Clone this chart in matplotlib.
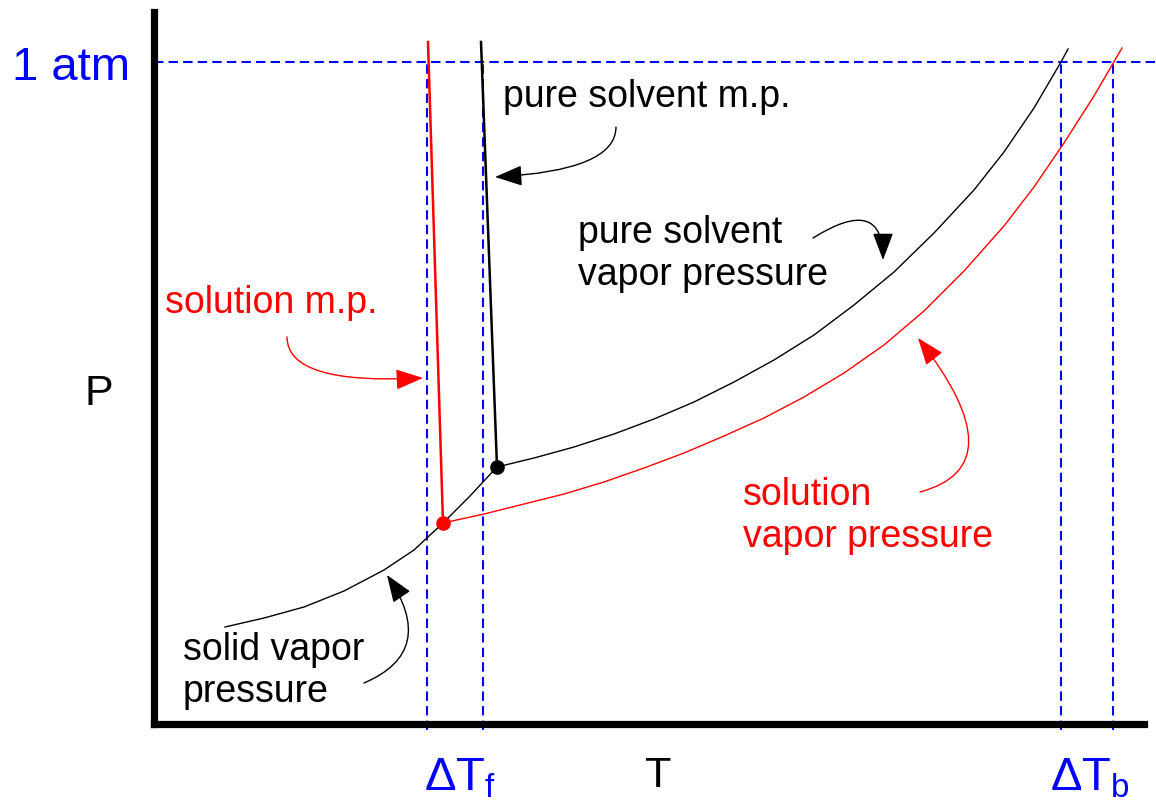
import matplotlib

matplotlib.use("Agg")
import matplotlib.pyplot as plt

plt.rcParams["font.family"] = ["Liberation Sans", "DejaVu Sans"]
plt.rcParams["mathtext.fontset"] = "custom"
plt.rcParams["mathtext.rm"] = "Liberation Sans"
plt.rcParams["mathtext.it"] = "Liberation Sans"

BLUE = "#0000ff"
RED = "#ff0000"

# T, P in arbitrary units (origin at the axes corner)
P_ATM = 662
T_F_PURE, T_F_SOLN = 329, 273
T_B_PURE, T_B_SOLN = 907, 959

# solid vapor pressure curve
solid_T = [71, 110, 150, 190, 230, 260, 289, 315, 343]
solid_P = [97, 106, 117, 133, 154, 174, 201, 227, 257]

# pure solvent vapor pressure (liquid)
pure_T = [343, 380, 420, 460, 500, 540, 580, 620, 660, 700, 740, 780, 820, 850, 880, 907, 914]
pure_P = [257, 266, 277, 290, 305, 322, 342, 364, 389, 419, 452, 491, 534, 572, 616, 662, 675]

# solution vapor pressure
soln_T = [289, 330, 370, 410, 450, 490, 530, 570, 610, 650, 690, 730, 770, 810, 850, 880, 910, 940, 968]
soln_P = [201, 210, 220, 230, 242, 256, 271, 288, 306, 327, 351, 379, 413, 453, 498, 537, 581, 628, 676]

# melting point lines (triple point -> top)
pure_mp_T = [343, 327]
pure_mp_P = [257, 682]
soln_mp_T = [289, 274]
soln_mp_P = [201, 682]

fig = plt.figure(figsize=(11.56, 8.02), dpi=100)
ax = fig.add_axes([154 / 1156, 78 / 802, 990 / 1156, 712 / 802])
ax.set_xlim(0, 990)
ax.set_ylim(0, 712)
for side in ("top", "right"):
    ax.spines[side].set_visible(False)
for side in ("left", "bottom"):
    ax.spines[side].set_linewidth(5.2)
    ax.spines[side].set_capstyle("projecting")
ax.set_xticks([])
ax.set_yticks([])

# reference lines
dash = (0, (4.5, 2.5))
ax.hlines(P_ATM, 0, 1002, colors=BLUE, linestyles=dash, lw=1.5, clip_on=False)
ax.vlines([T_F_SOLN, T_F_PURE, T_B_PURE, T_B_SOLN], -6, P_ATM,
          colors=BLUE, linestyles=dash, lw=1.5, clip_on=False)

# curves
ax.plot(solid_T, solid_P, color="black", lw=1.0)
ax.plot(pure_T, pure_P, color="black", lw=1.0)
ax.plot(soln_T, soln_P, color=RED, lw=1.0)
ax.plot(pure_mp_T, pure_mp_P, color="black", lw=1.8)
ax.plot(soln_mp_T, soln_mp_P, color=RED, lw=1.8)
ax.plot(pure_mp_T[0], pure_mp_P[0], "o", color="black", ms=9.5)
ax.plot(soln_mp_T[0], soln_mp_P[0], "o", color=RED, ms=9.5)

# labels
fs = 27
ax.text(-24, 644, "1 atm", color=BLUE, fontsize=34, ha="right", va="baseline")
ax.text(-69, 319, "P", color="black", fontsize=31, ha="left", va="baseline")
ax.text(504, -63, "T", color="black", fontsize=31, ha="center", va="baseline")
ax.text(306, -66, r"ΔT$_{\mathrm{f}}$", color=BLUE, fontsize=34, ha="center", va="baseline")
ax.text(936, -66, r"ΔT$_{\mathrm{b}}$", color=BLUE, fontsize=34, ha="center", va="baseline")

ax.text(349, 617, "pure solvent m.p.", color="black", fontsize=fs, va="baseline")
ax.text(424, 481, "pure solvent", color="black", fontsize=fs, va="baseline")
ax.text(424, 439, "vapor pressure", color="black", fontsize=fs, va="baseline")
ax.text(11, 411, "solution m.p.", color=RED, fontsize=fs, va="baseline")
ax.text(589, 219, "solution", color=RED, fontsize=fs, va="baseline")
ax.text(589, 177, "vapor pressure", color=RED, fontsize=fs, va="baseline")
ax.text(29, 64, "solid vapor", color="black", fontsize=fs, va="baseline")
ax.text(29, 22, "pressure", color="black", fontsize=fs, va="baseline")

# curved pointer arrows: (start, end, angleA, angleB, colour)
arrows = [
    ((462, 597), (341, 547), 90, 3, "black"),
    ((659, 486), (729, 464), 32, 90, "black"),
    ((133, 387), (269, 346), 90, 3, RED),
    ((766, 232), (764, 386), 15, 128, RED),
    ((210, 41), (233, 149), 23, 124, "black"),
]
for start, end, a, b, c in arrows:
    ax.annotate(
        "", xy=end, xytext=start,
        arrowprops=dict(
            arrowstyle="-|>,head_length=0.85,head_width=0.32",
            connectionstyle=f"angle3,angleA={a},angleB={b}",
            color=c, lw=1.0, shrinkA=0, shrinkB=0, mutation_scale=20,
        ),
    )

fig.savefig("out.png", dpi=100)
